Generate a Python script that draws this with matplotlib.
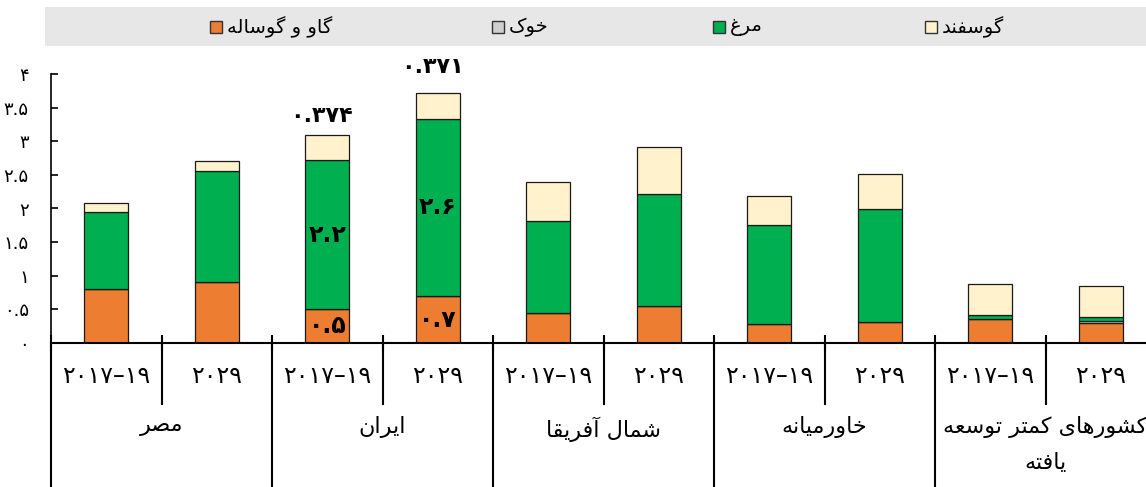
import numpy as np
import matplotlib
matplotlib.use('Agg')
import matplotlib.pyplot as plt
from matplotlib.patches import Rectangle

# داده‌ها (خوانده شده از تصویر)
years = ['۲۰۱۷–۱۹', '۲۰۲۹']
groups = ['مصر', 'ایران', 'شمال آفریقا', 'خاورمیانه', 'کشورهای کمتر توسعه\nیافته']
series_names = ['گاو و گوساله', 'خوک', 'مرغ', 'گوسفند']
series_colors = ['#ED7D31', '#D0CECE', '#00B050', '#FFF2CC']

cattle = [0.80, 0.90, 0.50, 0.69, 0.44, 0.54, 0.28, 0.31, 0.35, 0.30]
pig = [0.0, 0.0, 0.0, 0.0, 0.0, 0.0, 0.0, 0.0, 0.0, 0.02]
poultry = [1.15, 1.66, 2.22, 2.65, 1.38, 1.68, 1.47, 1.69, 0.07, 0.07]
sheep = [0.13, 0.15, 0.37, 0.38, 0.58, 0.70, 0.43, 0.52, 0.45, 0.45]

y_ticks = [0, 0.5, 1, 1.5, 2, 2.5, 3, 3.5, 4]
y_tick_labels = ['۰', '۰.۵', '۱', '۱.۵', '۲', '۲.۵', '۳', '۳.۵', '۴']

# برچسب‌های داخل ستون‌ها: (شماره ستون، شماره سری، متن)
seg_labels = [(2, 0, '۰.۵'), (2, 2, '۲.۲'), (3, 0, '۰.۷'), (3, 2, '۲.۶')]
top_labels = [(2, '۰.۳۷۴', 14), (3, '۰.۳۷۱', 19)]

# شکل‌دهی حروف فارسی (matplotlib خودش این کار را نمی‌کند)
FORMS = {
    'ا': ('\uFE8D', '\uFE8E', None, None),
    'آ': ('\uFE81', '\uFE82', None, None),
    'ت': ('\uFE95', '\uFE96', '\uFE97', '\uFE98'),
    'خ': ('\uFEA5', '\uFEA6', '\uFEA7', '\uFEA8'),
    'د': ('\uFEA9', '\uFEAA', None, None),
    'ر': ('\uFEAD', '\uFEAE', None, None),
    'س': ('\uFEB1', '\uFEB2', '\uFEB3', '\uFEB4'),
    'ش': ('\uFEB5', '\uFEB6', '\uFEB7', '\uFEB8'),
    'ص': ('\uFEB9', '\uFEBA', '\uFEBB', '\uFEBC'),
    'ع': ('\uFEC9', '\uFECA', '\uFECB', '\uFECC'),
    'غ': ('\uFECD', '\uFECE', '\uFECF', '\uFED0'),
    'ف': ('\uFED1', '\uFED2', '\uFED3', '\uFED4'),
    'ق': ('\uFED5', '\uFED6', '\uFED7', '\uFED8'),
    'ل': ('\uFEDD', '\uFEDE', '\uFEDF', '\uFEE0'),
    'م': ('\uFEE1', '\uFEE2', '\uFEE3', '\uFEE4'),
    'ن': ('\uFEE5', '\uFEE6', '\uFEE7', '\uFEE8'),
    'ه': ('\uFEE9', '\uFEEA', '\uFEEB', '\uFEEC'),
    'و': ('\uFEED', '\uFEEE', None, None),
    'ک': ('\uFB8E', '\uFB8F', '\uFB90', '\uFB91'),
    'گ': ('\uFB92', '\uFB93', '\uFB94', '\uFB95'),
    'ی': ('\uFBFC', '\uFBFD', '\uFBFE', '\uFBFF'),
}


def fa(text):
    lines = []
    for line in text.split('\n'):
        out = []
        for i, ch in enumerate(line):
            if ch not in FORMS:
                out.append(ch)
                continue
            prev = line[i - 1] if i > 0 else ''
            nxt = line[i + 1] if i + 1 < len(line) else ''
            iso, fin, ini, med = FORMS[ch]
            j_prev = prev in FORMS and FORMS[prev][2] is not None
            j_next = ini is not None and nxt in FORMS
            if j_prev and j_next:
                out.append(med)
            elif j_prev:
                out.append(fin)
            elif j_next:
                out.append(ini)
            else:
                out.append(iso)
        lines.append(''.join(reversed(out)))
    return '\n'.join(lines)


plt.rcParams['font.family'] = ['DejaVu Sans']

W, H = 1146, 487
fig = plt.figure(figsize=(W / 100, H / 100), dpi=100)
ax = fig.add_axes([51 / W, (H - 342.7) / H, 1105 / W, 268.4 / H])

x = np.arange(len(cattle))
data = [cattle, pig, poultry, sheep]
bottom = np.zeros(len(x))
bottoms = []
for vals, col in zip(data, series_colors):
    bottoms.append(bottom.copy())
    ax.bar(x, vals, width=0.4, bottom=bottom, color=col, edgecolor='#1a1a1a', linewidth=0.9)
    bottom = bottom + np.array(vals)
totals = bottom

ax.set_xlim(-0.5, len(x) - 0.5)
ax.set_ylim(0, 4)
ax.set_yticks(y_ticks)
ax.set_yticklabels(y_tick_labels, fontsize=13)
ax.tick_params(axis='y', direction='in', length=5, width=1.2, pad=16)
ax.set_xticks(np.arange(-0.5, len(x), 1.0))
ax.set_xticklabels([])
ax.tick_params(axis='x', direction='inout', length=12, width=1.5)
for s in ['top', 'right']:
    ax.spines[s].set_visible(False)
ax.spines['left'].set_linewidth(1.2)
ax.spines['bottom'].set_linewidth(1.5)

# خطوط جداکننده زیر محور
tr = ax.get_xaxis_transform()
for k in range(len(x) + 1):
    low = -0.54 if k % 2 == 0 else -0.23
    ax.plot([k - 0.5, k - 0.5], [0, low], transform=tr, color='black', lw=1.5, clip_on=False)

for i in x:
    ax.text(i, -0.124, years[i % 2], transform=tr, ha='center', va='center', fontsize=17)
for g, name in enumerate(groups):
    ax.text(2 * g + 0.5, -0.274, fa(name), transform=tr, ha='center', va='top',
            fontsize=16, linespacing=1.9, multialignment='center')

for i, s, txt in seg_labels:
    yc = bottoms[s][i] + data[s][i] / 2
    ax.text(i, yc, txt, ha='center', va='center', fontsize=17, fontweight='bold')
for i, txt, off in top_labels:
    ax.annotate(txt, (i, totals[i]), xytext=(-4, off), textcoords='offset points',
                ha='center', va='center', fontsize=16, fontweight='bold')

# راهنما
fig.patches.append(Rectangle((45 / W, (H - 46) / H), 1 - 45 / W, 39 / H,
                             transform=fig.transFigure, facecolor='#E7E7E7', edgecolor='none'))
leg_x = [210, 492, 713, 925]
leg_order = [0, 1, 2, 3]
for px, idx in zip(leg_x, leg_order):
    fig.patches.append(Rectangle((px / W, (H - 33) / H), 12 / W, 12 / H, transform=fig.transFigure,
                                 facecolor=series_colors[idx], edgecolor='#333333', linewidth=1))
    fig.text((px + 17) / W, (H - 27) / H, fa(series_names[idx]), ha='left', va='center', fontsize=14)

fig.savefig('out.png', dpi=100)
